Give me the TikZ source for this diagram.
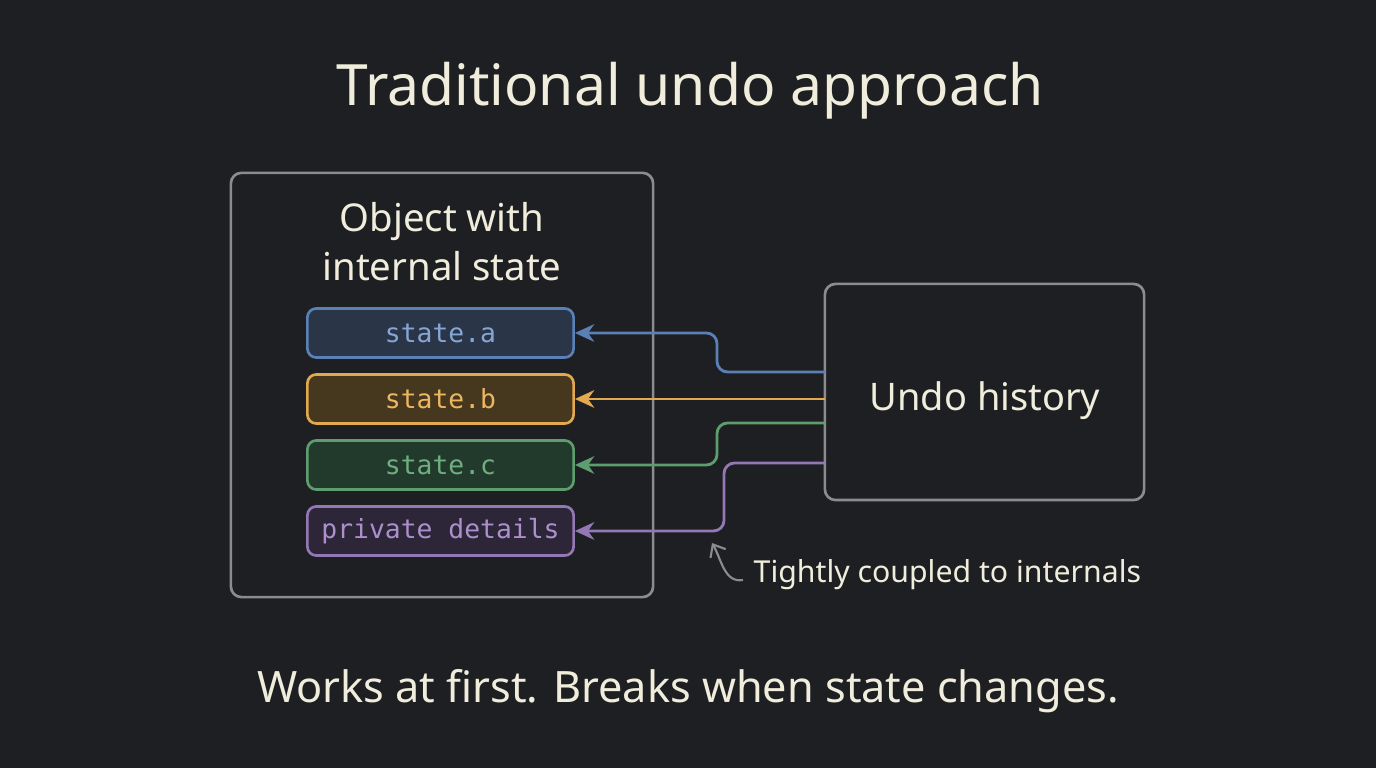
\documentclass[tikz,border=0pt]{standalone}
\usepackage{fontspec}
\setmainfont{Noto Sans}
\setmonofont{DejaVu Sans Mono}
\usetikzlibrary{arrows.meta}
\usetikzlibrary{positioning}
\definecolor{bg}{HTML}{1E1F22}
\definecolor{cream}{HTML}{F0EDDC}
\definecolor{frame}{HTML}{8A8C90}
\definecolor{blueline}{HTML}{5B80B5}
\definecolor{bluefill}{HTML}{2A3648}
\definecolor{bluetext}{HTML}{86A6D6}
\definecolor{orangeline}{HTML}{E3A94F}
\definecolor{orangefill}{HTML}{46381F}
\definecolor{orangetext}{HTML}{EDB661}
\definecolor{greenline}{HTML}{5E9E6E}
\definecolor{greenfill}{HTML}{223A2B}
\definecolor{greentext}{HTML}{6FAE80}
\definecolor{purpleline}{HTML}{9478B5}
\definecolor{purplefill}{HTML}{2D2638}
\definecolor{purpletext}{HTML}{AC90CC}

\begin{document}
\begin{tikzpicture}[x=0.01cm,y=-0.01cm,
  every node/.style={text=cream,inner sep=0pt},
  panel/.style={draw=frame,line width=0.75pt,rounded corners=3pt},
  field/.style={draw=#1line,fill=#1fill,text=#1text,line width=0.75pt,rounded corners=2.5pt,
    minimum width=2.66cm,minimum height=0.49cm,font=\ttfamily\fontsize{7.5}{9}\selectfont},
  link/.style={draw=#1line,line width=0.8pt,rounded corners=3pt,-{Stealth[length=5.5pt,width=5pt]}}]
  \fill[bg] (0,0) rectangle (1376,768);
  \useasboundingbox (0,0) rectangle (1376,768);

  \node (title) at (690,91) {\fontsize{16.2}{20}\selectfont Traditional undo approach};

  % object and its fields
  \node[panel,minimum width=4.22cm,minimum height=4.24cm] (obj) at (442,385) {};
  \node[align=center,font=\fontsize{10.9}{14}\selectfont] (objlabel) at (442,242) {Object with\\internal state};
  \node[field=blue] (sa) at (440.5,333) {state.a};
  \node[field=orange] (sb) at (440.5,399) {state.b};
  \node[field=green] (sc) at (440.5,465) {state.c};
  \node[field=purple] (sp) at (440.5,531) {private details};

  % history
  \node[panel,minimum width=3.19cm,minimum height=2.16cm] (undo) at (984.5,392) {};
  \node (undolabel) at (985,401) {\fontsize{10.8}{13}\selectfont Undo history};
  \coordinate (ua) at (825,372);
  \coordinate (ub) at (825,399);
  \coordinate (uc) at (825,423);
  \coordinate (up) at (825,463);

  \draw[link=blue] (ua) -- (717,372) -- (717,333) -- (sa.east);
  \draw[link=orange] (ub) -- (sb.east);
  \draw[link=green] (uc) -- (717,423) -- (717,465) -- (sc.east);
  \draw[link=purple] (up) -- (724,463) -- (724,531) -- (sp.east);

  \node[anchor=west,font=\fontsize{8.6}{11}\selectfont] (note) at (753,575) {Tightly coupled to internals};
  \coordinate (ptr) at (712,543);
  \draw[frame,line width=0.6pt,-{Straight Barb[length=3pt,width=5pt]}] ([xshift=-0.1cm,yshift=-0.05cm]note.west) to[out=190,in=-60] (ptr);

  \node (moral) at (688,691) {\fontsize{12.3}{16}\selectfont Works at first. Breaks when state changes.};
\end{tikzpicture}
\end{document}
